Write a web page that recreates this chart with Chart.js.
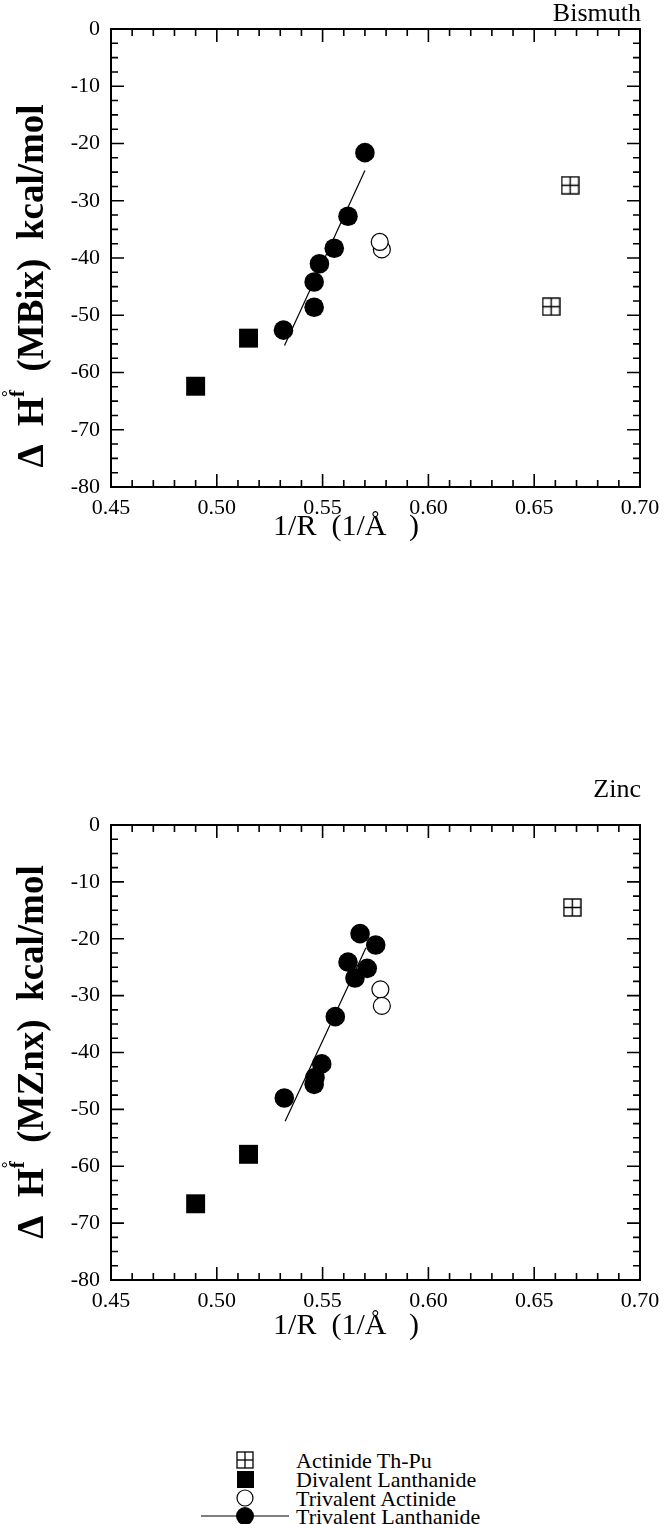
<!DOCTYPE html>
<html>
<head>
<meta charset="utf-8">
<script src="https://cdn.jsdelivr.net/npm/chart.js@4.4.0/dist/chart.umd.min.js"></script>
<style>
  html, body { margin: 0; padding: 0; background: #fff; }
  body { width: 668px; height: 1524px; position: relative; overflow: hidden; font-family: "Liberation Serif", serif; }
  canvas { position: absolute; left: 0; }
  .row { position: absolute; left: 0; height: 19px; width: 668px; font-size: 22px; line-height: 19px; color: #000; }
  .row svg { position: absolute; top: -1px; }
  .row span { position: absolute; white-space: nowrap; }
</style>
</head>
<body>
<canvas id="bi" width="668" height="620" style="top:0"></canvas>
<canvas id="zn" width="668" height="620" style="top:760px"></canvas>
<div id="legend"></div>
<script>
// axis ticks
const xTickValues = [0.45, 0.50, 0.55, 0.60, 0.65, 0.70];
const xTickLabels = ['0.45', '0.50', '0.55', '0.60', '0.65', '0.70'];
const yTickValues = [0, -10, -20, -30, -40, -50, -60, -70, -80];
const yTickLabels = ['0', '-10', '-20', '-30', '-40', '-50', '-60', '-70', '-80'];

const legendLabels = ['Actinide Th-Pu', 'Divalent Lanthanide', 'Trivalent Actinide', 'Trivalent Lanthanide'];

// Bismuth panel
const biActinideX = [0.667, 0.658];
const biActinideY = [-27.3, -48.5];
const biDivalentX = [0.490, 0.515];
const biDivalentY = [-62.4, -54.0];
const biTriActX = [0.578, 0.577];
const biTriActY = [-38.5, -37.2];
const biTriLanX = [0.570, 0.562, 0.5555, 0.5485, 0.546, 0.546, 0.5315];
const biTriLanY = [-21.6, -32.7, -38.3, -41.0, -44.2, -48.6, -52.6];
const biFitX = [0.532, 0.570];
const biFitY = [-55.3, -24.7];

// Zinc panel
const znActinideX = [0.668];
const znActinideY = [-14.5];
const znDivalentX = [0.490, 0.515];
const znDivalentY = [-66.6, -57.9];
const znTriActX = [0.5773, 0.578];
const znTriActY = [-28.9, -31.8];
const znTriLanX = [0.5677, 0.5751, 0.562, 0.5711, 0.5653, 0.556, 0.5496, 0.5464, 0.546, 0.5319];
const znTriLanY = [-19.1, -21.1, -24.1, -25.2, -26.9, -33.7, -42.0, -44.4, -45.6, -48.0];
const znFitX = [0.5323, 0.5705];
const znFitY = [-52.1, -21.6];

const FONT = '"Liberation Serif", "Times New Roman", serif';

function pts(xs, ys) {
  return xs.map((x, i) => ({ x: x, y: ys[i] }));
}

// square with a cross inside, used as point style
function boxCross(size) {
  const c = document.createElement('canvas');
  c.width = size; c.height = size;
  const g = c.getContext('2d');
  g.strokeStyle = '#000';
  g.lineWidth = 1.4;
  g.strokeRect(1, 1, size - 2, size - 2);
  g.beginPath();
  g.moveTo(size / 2, 1); g.lineTo(size / 2, size - 1);
  g.moveTo(1, size / 2); g.lineTo(size - 1, size / 2);
  g.stroke();
  return c;
}
const boxCrossImg = boxCross(19);

// box, inward ticks and titles
const framePlugin = {
  id: 'frame',
  afterDraw(chart, args, opts) {
    const { ctx, chartArea: a, scales: { x, y } } = chart;
    ctx.save();
    ctx.strokeStyle = '#000';
    ctx.lineWidth = 2;
    ctx.strokeRect(a.left, a.top, a.right - a.left, a.bottom - a.top);

    ctx.lineWidth = 1.6;
    ctx.beginPath();
    for (let i = 0; i <= 25; i++) {
      const px = x.getPixelForValue(0.45 + i * 0.01);
      const len = i % 5 === 0 ? 13 : 7;
      ctx.moveTo(px, a.bottom); ctx.lineTo(px, a.bottom - len);
      ctx.moveTo(px, a.top); ctx.lineTo(px, a.top + len);
    }
    for (let i = 0; i <= 32; i++) {
      const py = y.getPixelForValue(-i * 2.5);
      const len = i % 4 === 0 ? 13 : 7;
      ctx.moveTo(a.left, py); ctx.lineTo(a.left + len, py);
      ctx.moveTo(a.right, py); ctx.lineTo(a.right - len, py);
    }
    ctx.stroke();

    ctx.fillStyle = '#000';
    // panel name
    ctx.font = '26px ' + FONT;
    ctx.textAlign = 'right';
    ctx.textBaseline = 'middle';
    ctx.fillText(opts.name, a.right + 1, opts.nameY);

    // x title
    ctx.font = '30px ' + FONT;
    ctx.textAlign = 'center';
    ctx.fillText('1/R  (1/Å   )', opts.xTitleX, a.bottom + opts.xTitleDy);

    // y title with superscripts
    const big = 'bold 37px ' + FONT;
    const small = 'bold 21px ' + FONT;
    const parts = [
      ['Δ  H', big, 0],
      ['f', small, -14],
      ['  (' + opts.sub + ')  kcal/mol', big, 0]
    ];
    let total = 0;
    parts.forEach(p => { ctx.font = p[1]; p.w = ctx.measureText(p[0]).width; total += p.w; });
    ctx.translate(33, opts.yTitleY);
    ctx.rotate(-Math.PI / 2);
    ctx.textAlign = 'left';
    let cx = -total / 2;
    parts.forEach((p, i) => {
      ctx.font = p[1];
      ctx.fillText(p[0], cx, p[2]);
      if (i === 1) {
        ctx.font = 'bold 17px ' + FONT;
        ctx.fillText('°', cx, p[2] - 10);
      }
      cx += p.w;
    });
    ctx.restore();
  }
};

function makeChart(id, d, padTop, padBottom, frame) {
  return new Chart(document.getElementById(id), {
    type: 'scatter',
    data: {
      datasets: [
        {
          label: legendLabels[0], data: pts(d.actX, d.actY),
          pointStyle: boxCrossImg, pointRadius: 10
        },
        {
          label: legendLabels[1], data: pts(d.divX, d.divY),
          pointStyle: 'rect', pointRadius: 13.4,
          backgroundColor: '#000', borderColor: '#000', borderWidth: 0
        },
        {
          label: legendLabels[2], data: pts(d.taX, d.taY),
          pointStyle: 'circle', pointRadius: 8.5,
          backgroundColor: '#fff', borderColor: '#000', borderWidth: 1.2
        },
        {
          label: 'fit', type: 'line', data: pts(d.fitX, d.fitY),
          showLine: true, pointRadius: 0, borderColor: '#000', borderWidth: 1.2, fill: false
        },
        {
          label: legendLabels[3], data: pts(d.tlX, d.tlY),
          pointStyle: 'circle', pointRadius: 9.8,
          backgroundColor: '#000', borderColor: '#000', borderWidth: 0
        }
      ]
    },
    options: {
      responsive: false,
      animation: false,
      events: [],
      layout: { padding: { top: padTop, right: 28, bottom: padBottom, left: 0 } },
      plugins: {
        legend: { display: false },
        tooltip: { enabled: false },
        frame: frame
      },
      scales: {
        x: {
          type: 'linear', min: 0.45, max: 0.70,
          grid: { display: false, drawTicks: false },
          border: { display: false },
          afterBuildTicks: s => { s.ticks = xTickValues.map(v => ({ value: v })); },
          afterFit: s => { s.height = 60; },
          ticks: {
            padding: 8, color: '#000', maxRotation: 0,
            font: { family: FONT, size: 22 },
            callback: (v, i) => xTickLabels[i]
          }
        },
        y: {
          type: 'linear', min: -80, max: 0,
          grid: { display: false, drawTicks: false },
          border: { display: false },
          afterBuildTicks: s => { s.ticks = yTickValues.slice().reverse().map(v => ({ value: v })); },
          afterFit: s => { s.width = 111; },
          ticks: {
            padding: 11, color: '#000',
            font: { family: FONT, size: 22 },
            callback: v => yTickLabels[yTickValues.indexOf(v)]
          }
        }
      }
    },
    plugins: [framePlugin]
  });
}

makeChart('bi', {
  actX: biActinideX, actY: biActinideY, divX: biDivalentX, divY: biDivalentY,
  taX: biTriActX, taY: biTriActY, tlX: biTriLanX, tlY: biTriLanY, fitX: biFitX, fitY: biFitY
}, 29, 620 - 487 - 60, { name: 'Bismuth', sub: 'MBix', nameY: 14, xTitleX: 346, xTitleDy: 40, yTitleY: 286 });

makeChart('zn', {
  actX: znActinideX, actY: znActinideY, divX: znDivalentX, divY: znDivalentY,
  taX: znTriActX, taY: znTriActY, tlX: znTriLanX, tlY: znTriLanY, fitX: znFitX, fitY: znFitY
}, 65, 620 - 520 - 60, { name: 'Zinc', sub: 'MZnx', nameY: 30, xTitleX: 346, xTitleDy: 46, yTitleY: 292 });

// legend below the second panel
const symbols = [
  '<rect x="41" y="2" width="16" height="16" fill="#fff" stroke="#000" stroke-width="1.3"/>' +
  '<line x1="49" y1="2" x2="49" y2="18" stroke="#000" stroke-width="1.3"/>' +
  '<line x1="41" y1="10" x2="57" y2="10" stroke="#000" stroke-width="1.3"/>',
  '<rect x="41" y="2" width="17" height="17" fill="#000"/>',
  '<circle cx="49" cy="10" r="8" fill="#fff" stroke="#000" stroke-width="1.2"/>',
  '<line x1="5" y1="10" x2="93" y2="10" stroke="#000" stroke-width="1.2"/>' +
  '<circle cx="49" cy="10" r="9" fill="#000"/>'
];
const legendTop = 1451;
const legend = document.getElementById('legend');
legendLabels.forEach((label, i) => {
  const row = document.createElement('div');
  row.className = 'row';
  row.style.top = (legendTop + i * 18.8) + 'px';
  row.innerHTML = '<svg width="98" height="21" style="left:196px">' + symbols[i] + '</svg>' +
    '<span style="left:296px">' + label + '</span>';
  legend.appendChild(row);
});
</script>
</body>
</html>
